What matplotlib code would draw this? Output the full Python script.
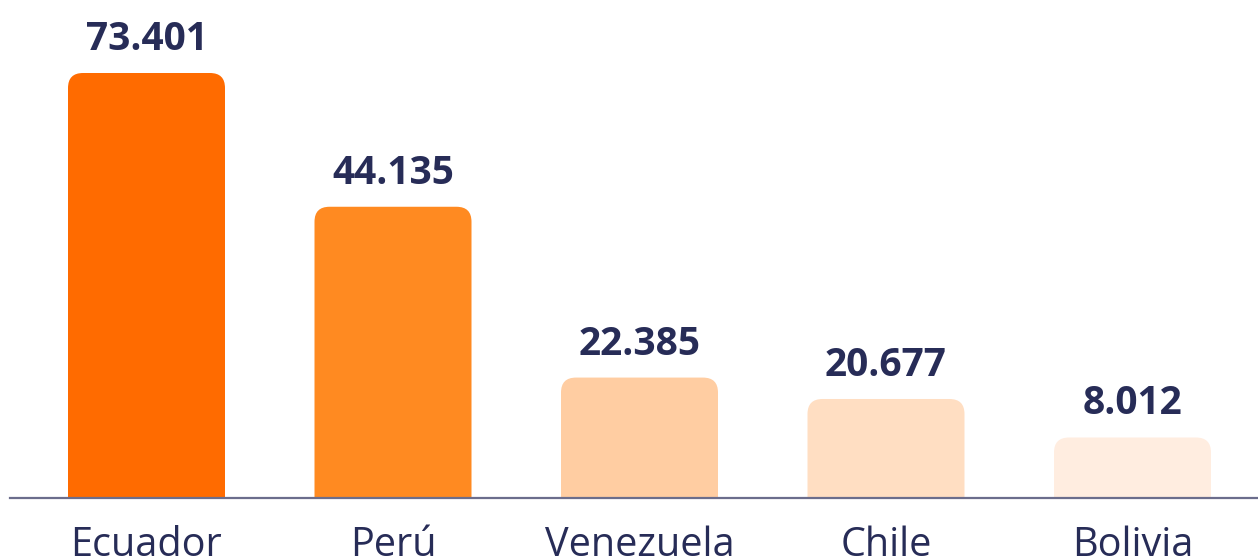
import matplotlib
matplotlib.use("Agg")
import matplotlib.pyplot as plt
from matplotlib.patches import FancyBboxPatch

# Data
countries = ["Ecuador", "Perú", "Venezuela", "Chile", "Bolivia"]
values = [73.401, 44.135, 22.385, 20.677, 8.012]
value_labels = ["73.401", "44.135", "22.385", "20.677", "8.012"]
# bar heights as drawn in the reference (not proportional to the labels)
bar_heights = [73.401, 50.3, 20.8, 17.1, 10.45]
colors = ["#FF6B00", "#FF8A21", "#FFCDA2", "#FFDEC2", "#FFEDE0"]

TEXT = "#272C57"
AXIS = "#6B6D8C"

W, H = 1258, 556
fig = plt.figure(figsize=(W / 100, H / 100), dpi=100)
ax = fig.add_axes([10 / W, 58 / H, 1 - 10 / W, 1 - 58 / H])

spacing_px = 246.5
xl = -136.5 / spacing_px
ax.set_xlim(xl, xl + 1248 / spacing_px)
px_per_unit = 425 / 73.401
ax.set_ylim(0, 498 / px_per_unit)

bw = 157 / spacing_px
x = list(range(len(countries)))
bars = ax.bar(x, bar_heights, width=bw, color=colors)

r_px = 15
aspect = (1 / px_per_unit) / (1 / spacing_px)
for b, c in zip(bars, colors):
    x0 = b.get_x()
    w = b.get_width()
    h = b.get_height()
    b.set_visible(False)
    p = FancyBboxPatch((x0, -5), w, h + 5,
                       boxstyle=f"round,pad=0,rounding_size={r_px / spacing_px}",
                       mutation_aspect=aspect, fc=c, ec="none", clip_on=True)
    ax.add_patch(p)

off = 23 / px_per_unit
for xi, h, lab in zip(x, bar_heights, value_labels):
    ax.text(xi, h + off, lab, ha="center", va="baseline",
            fontsize=28, fontweight="bold", color=TEXT, family="Open Sans",
            clip_on=False)

for s in ["top", "right", "left"]:
    ax.spines[s].set_visible(False)
ax.spines["bottom"].set_color(AXIS)
ax.spines["bottom"].set_linewidth(1.6)
ax.set_yticks([])
ax.set_xticks(x)
ax.set_xticklabels(countries, fontsize=28.5, color=TEXT, family="Open Sans")
ax.tick_params(axis="x", length=0, pad=20)

fig.savefig("out.png", dpi=100)
